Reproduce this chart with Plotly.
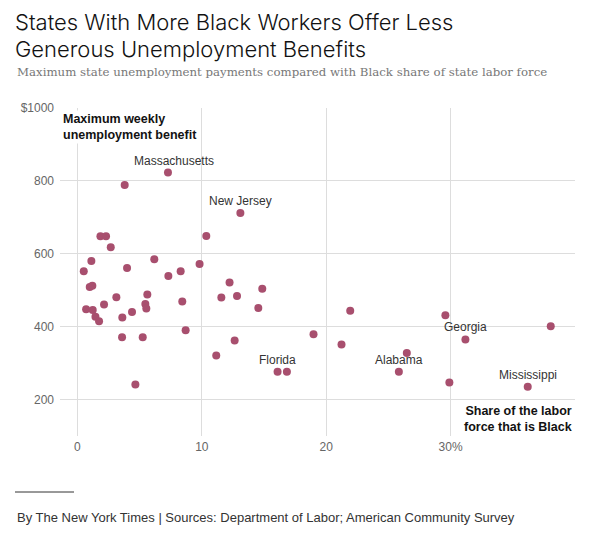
import plotly.graph_objects as go

# Black share of state labor force (%) and maximum weekly unemployment benefit ($)
black_share = [1.85, 2.3, 2.68, 1.12, 0.51, 0.99, 1.2, 3.13, 0.7, 1.23, 2.14, 1.45, 1.74,
               3.99, 3.61, 4.39, 3.59, 5.25, 4.66, 5.46, 5.62, 5.54, 6.18, 7.31, 8.3, 8.43,
               8.7, 9.82, 3.8, 7.28, 13.1, 10.36, 12.23, 12.83, 11.57, 14.86, 14.54, 21.93,
               18.98, 21.23, 12.64, 11.16, 16.09, 16.84, 29.58, 38.05, 31.19, 26.48, 25.84,
               29.9, 36.2]
max_benefit = [648, 648, 618, 580, 552, 509, 512, 481, 448, 446, 461, 427, 415, 561, 425,
               440, 371, 371, 241, 462, 488, 450, 585, 539, 552, 469, 390, 572, 789, 823,
               712, 649, 521, 484, 480, 504, 451, 444, 379, 351, 362, 321, 276, 276, 431,
               401, 365, 328, 276, 247, 235]
labeled_states = {29: "Massachusetts", 30: "New Jersey", 42: "Florida",
                  46: "Georgia", 48: "Alabama", 50: "Mississippi"}

x_tickvals = [0, 10, 20, 30]
x_ticktext = ["0", "10", "20", "30%"]
y_tickvals = [200, 400, 600, 800, 1000]
y_ticktext = ["200", "400", "600", "800", "$1000"]

title_lines = ["States With More Black Workers Offer Less", "Generous Unemployment Benefits"]
subtitle = "Maximum state unemployment payments compared with Black share of state labor force"
y_title = ["Maximum weekly", "unemployment benefit"]
x_title = ["Share of the labor", "force that is Black"]
footer = "By The New York Times | Sources: Department of Labor; American Community Survey"

# the page body adds an 8px offset; coordinates below are reference pixels minus 8
OFF = 8
W, H = 599 - OFF, 540 - OFF
L, R, T, B = 60 - OFF, 575 - OFF, 108 - OFF, 436 - OFF

def px(x):
    return (x - OFF - L) / (R - L)

def py(y):
    return (B - (y - OFF)) / (B - T)

fig = go.Figure()
fig.add_trace(go.Scatter(
    x=black_share, y=max_benefit, mode="markers",
    marker=dict(color="#a84f6e", size=8, line=dict(width=0)),
    hoverinfo="skip", showlegend=False,
))

ann = []
sans = "Liberation Sans, Arial, sans-serif"
title_font = dict(family="Inter", size=22, color="#121212", weight=300)
ann.append(dict(text=title_lines[0], x=px(14), y=py(8.2), xref="paper", yref="paper",
                xanchor="left", yanchor="top", showarrow=False, borderpad=0,
                font=title_font))
ann.append(dict(text=title_lines[1], x=px(14), y=py(35.2), xref="paper", yref="paper",
                xanchor="left", yanchor="top", showarrow=False, borderpad=0,
                font=title_font))
ann.append(dict(text=subtitle, x=px(15), y=py(72), xref="paper", yref="paper",
                xanchor="left", yanchor="middle", showarrow=False,
                font=dict(family="DejaVu Serif", size=11.75, color="#777777")))
ann.append(dict(text="<b>" + "<br>".join(y_title) + "</b>", x=px(61), y=py(110),
                xref="paper", yref="paper", xanchor="left", yanchor="top", align="left",
                showarrow=False, bgcolor="white",
                font=dict(family=sans, size=12.5, color="#121212")))
ann.append(dict(text="<b>" + "<br>".join(x_title) + "</b>", x=px(574), y=py(402),
                xref="paper", yref="paper", xanchor="right", yanchor="top", align="right",
                showarrow=False, bgcolor="white",
                font=dict(family=sans, size=12.5, color="#121212")))
ann.append(dict(text=footer, x=px(15), y=py(517), xref="paper", yref="paper",
                xanchor="left", yanchor="middle", showarrow=False,
                font=dict(family=sans, size=13, color="#333333")))

xshift = {29: 6}
for i, name in labeled_states.items():
    ann.append(dict(text=name, x=black_share[i], y=max_benefit[i], xref="x", yref="y",
                    showarrow=False, yshift=12, xshift=xshift.get(i, 0),
                    xanchor="center", yanchor="middle",
                    font=dict(family=sans, size=12, color="#333333")))

fig.update_layout(
    width=W, height=H,
    margin=dict(l=L, r=W - R, t=T, b=H - B, pad=0),
    paper_bgcolor="white", plot_bgcolor="white",
    annotations=ann,
    shapes=[dict(type="line", xref="paper", yref="paper", x0=px(15), x1=px(74),
                 y0=py(492), y1=py(492), line=dict(color="#333333", width=1))],
    xaxis=dict(range=[-1.4, 40], tickvals=x_tickvals, ticktext=x_ticktext,
               showgrid=True, gridcolor="#dddddd", gridwidth=1, zeroline=False,
               showline=False, ticks="", ticklen=0, ticklabelstandoff=2,
               tickfont=dict(family=sans, size=12, color="#666666")),
    yaxis=dict(range=[100, 1000], tickvals=y_tickvals, ticktext=y_ticktext,
               showgrid=True, gridcolor="#dddddd", gridwidth=1, zeroline=False,
               showline=False, ticks="", ticklen=0, ticklabelstandoff=5,
               tickfont=dict(family=sans, size=12, color="#666666")),
)
fig.write_html("out.html")
